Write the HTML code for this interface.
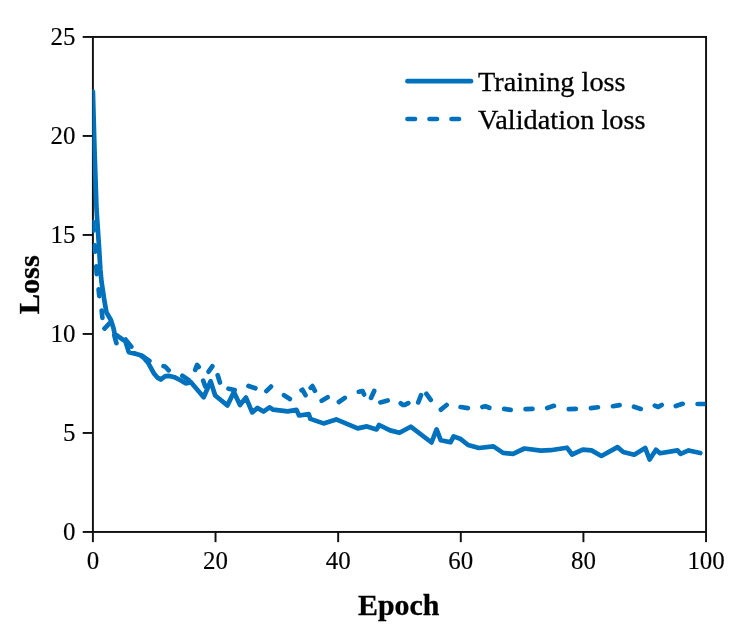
<!DOCTYPE html>
<html lang="en"><head><meta charset="utf-8"><title>Training and validation loss</title>
<style>html,body{margin:0;padding:0;background:#fff;}body{width:742px;height:640px;overflow:hidden;}svg{display:block;}text{font-family:"Liberation Serif",serif;fill:#000;stroke:#000;stroke-width:0.3px;}.tk text{stroke-width:0.15px;}</style>
</head><body>
<svg width="742" height="640" viewBox="0 0 742 640">
<rect width="742" height="640" fill="#fff"/>
<defs><clipPath id="ax"><rect x="92.40" y="36.95" width="613.10" height="495.00"/></clipPath></defs>
<rect x="92.90" y="36.95" width="613.15" height="495.00" fill="none" stroke="#111" stroke-width="1.95"/>
<g stroke="#111" stroke-width="1.95" fill="none">
<line x1="92.90" y1="531.95" x2="92.90" y2="542.15"/>
<line x1="215.53" y1="531.95" x2="215.53" y2="542.15"/>
<line x1="338.16" y1="531.95" x2="338.16" y2="542.15"/>
<line x1="460.79" y1="531.95" x2="460.79" y2="542.15"/>
<line x1="583.42" y1="531.95" x2="583.42" y2="542.15"/>
<line x1="706.05" y1="531.95" x2="706.05" y2="542.15"/>
<line x1="92.90" y1="531.95" x2="82.70" y2="531.95"/>
<line x1="92.90" y1="432.95" x2="82.70" y2="432.95"/>
<line x1="92.90" y1="333.95" x2="82.70" y2="333.95"/>
<line x1="92.90" y1="234.95" x2="82.70" y2="234.95"/>
<line x1="92.90" y1="135.95" x2="82.70" y2="135.95"/>
<line x1="92.90" y1="36.95" x2="82.70" y2="36.95"/>
</g>
<g class="tk" font-size="24.90">
<text x="92.90" y="568.6" text-anchor="middle">0</text>
<text x="215.53" y="568.6" text-anchor="middle">20</text>
<text x="338.16" y="568.6" text-anchor="middle">40</text>
<text x="460.79" y="568.6" text-anchor="middle">60</text>
<text x="583.42" y="568.6" text-anchor="middle">80</text>
<text x="706.05" y="568.6" text-anchor="middle">100</text>
<text x="75.5" y="539.65" text-anchor="end">0</text>
<text x="75.5" y="440.65" text-anchor="end">5</text>
<text x="75.5" y="341.65" text-anchor="end">10</text>
<text x="75.5" y="242.65" text-anchor="end">15</text>
<text x="75.5" y="143.65" text-anchor="end">20</text>
<text x="75.5" y="44.65" text-anchor="end">25</text>
</g>
<text x="398.7" y="614.8" text-anchor="middle" font-size="29.90" font-weight="bold">Epoch</text>
<text transform="translate(38.5 284.8) rotate(-90)" text-anchor="middle" font-size="30.40" font-weight="bold">Loss</text>
<g clip-path="url(#ax)" fill="none" stroke="#0072BD" stroke-width="4.70" stroke-linejoin="round" stroke-linecap="round">
<path d="M92.90 91.60 L94.50 149.00 L96.50 209.00 L98.90 245.00 L100.40 270.00 L101.50 281.60 L104.60 302.00 L106.50 312.50 L110.90 320.00 L113.50 328.20 L114.70 334.00 L125.40 341.40 L128.80 352.10 L136.20 353.90 L140.00 355.00 L143.50 357.50 L148.00 362.65 L154.20 373.80 L157.40 377.60 L160.70 379.50 L165.30 376.20 L169.50 375.90 L174.40 377.20 L180.00 380.00 L185.60 383.30 L188.40 382.90 L190.70 382.00 L203.70 397.30 L210.60 381.20 L215.20 395.50 L227.40 405.40 L233.90 392.00 L240.00 405.00 L246.00 397.60 L252.20 412.40 L257.55 407.90 L263.50 411.60 L269.40 407.30 L273.20 409.70 L287.70 411.40 L296.40 409.85 L299.10 415.50 L308.80 414.20 L310.40 418.90 L323.50 423.40 L336.20 419.40 L357.70 428.40 L366.90 426.40 L376.60 429.45 L379.10 425.00 L390.10 430.40 L399.50 432.80 L410.70 426.70 L431.50 442.50 L436.60 429.40 L440.70 440.20 L450.60 442.30 L453.60 436.40 L460.10 438.70 L468.10 445.00 L478.90 448.00 L493.40 446.40 L503.10 452.90 L513.05 453.80 L524.40 448.50 L540.80 450.60 L550.50 450.20 L566.90 447.70 L572.05 454.50 L582.80 449.60 L591.50 450.40 L601.40 456.00 L617.50 447.10 L623.20 452.00 L634.20 454.70 L645.20 447.90 L649.60 459.50 L656.00 449.80 L660.00 453.20 L677.50 450.35 L680.60 453.85 L688.60 450.45 L700.30 453.00"/>
<path d="M93.15 222.20 L93.65 230.60 M94.80 245.40 L95.20 251.60 M96.25 266.40 L96.75 274.20 M98.60 289.40 L99.30 296.10 M101.70 310.60 L102.40 317.90 M104.50 328.60 L110.40 322.40 M114.30 335.50 L116.40 343.20 M125.70 339.60 L131.30 346.60 M142.30 355.80 L149.40 360.90 M163.50 366.20 L165.10 366.50 L168.70 370.30 M182.35 375.80 L188.50 379.90 M195.20 369.80 L197.10 364.85 L198.75 367.00 M203.20 380.60 L205.30 386.50 M208.60 371.70 L212.30 366.30 M217.70 375.20 L219.90 382.50 M228.50 388.70 L234.70 390.00 M248.50 386.00 L255.40 388.30 M266.40 391.20 L271.00 386.60 M284.00 395.20 L289.90 399.00 M301.50 390.30 L302.50 389.80 L305.50 395.20 M310.70 387.80 L312.40 386.10 L314.90 390.80 M321.70 400.80 L327.60 397.30 M338.90 401.95 L344.80 397.90 M358.80 391.70 L362.50 391.00 L364.10 394.50 M371.00 397.90 L374.20 391.00 M380.40 402.40 L387.70 400.50 M400.80 403.30 L402.80 404.90 L404.80 404.90 L408.30 403.10 M418.25 402.40 L421.05 395.10 M426.40 393.80 L430.75 399.95 M440.90 409.65 L446.60 405.00 M460.60 407.00 L467.80 408.10 M482.40 407.00 L485.30 406.20 L489.30 407.80 M504.20 408.90 L510.70 409.90 M525.55 409.20 L532.45 408.90 M547.25 408.10 L553.90 405.85 M568.80 409.10 L575.80 408.90 M590.90 408.10 L597.90 407.25 M612.90 406.20 L619.60 405.10 M634.00 406.70 L640.75 408.90 M654.80 405.60 L658.20 407.00 L661.70 404.90 M675.80 406.00 L682.70 403.80 M697.60 404.00 L709.00 404.00"/>
</g>
<g fill="none" stroke="#0072BD" stroke-width="4.70" stroke-linecap="round">
<line x1="407.5" y1="81.2" x2="471" y2="81.2"/>
<line x1="407.5" y1="119.0" x2="471" y2="119.0" stroke-dasharray="7.5 14.5"/>
</g>
<g font-size="28.30">
<text x="478.0" y="90.8">Training loss</text>
<text x="478.0" y="128.7">Validation loss</text>
</g>
</svg></body></html>
